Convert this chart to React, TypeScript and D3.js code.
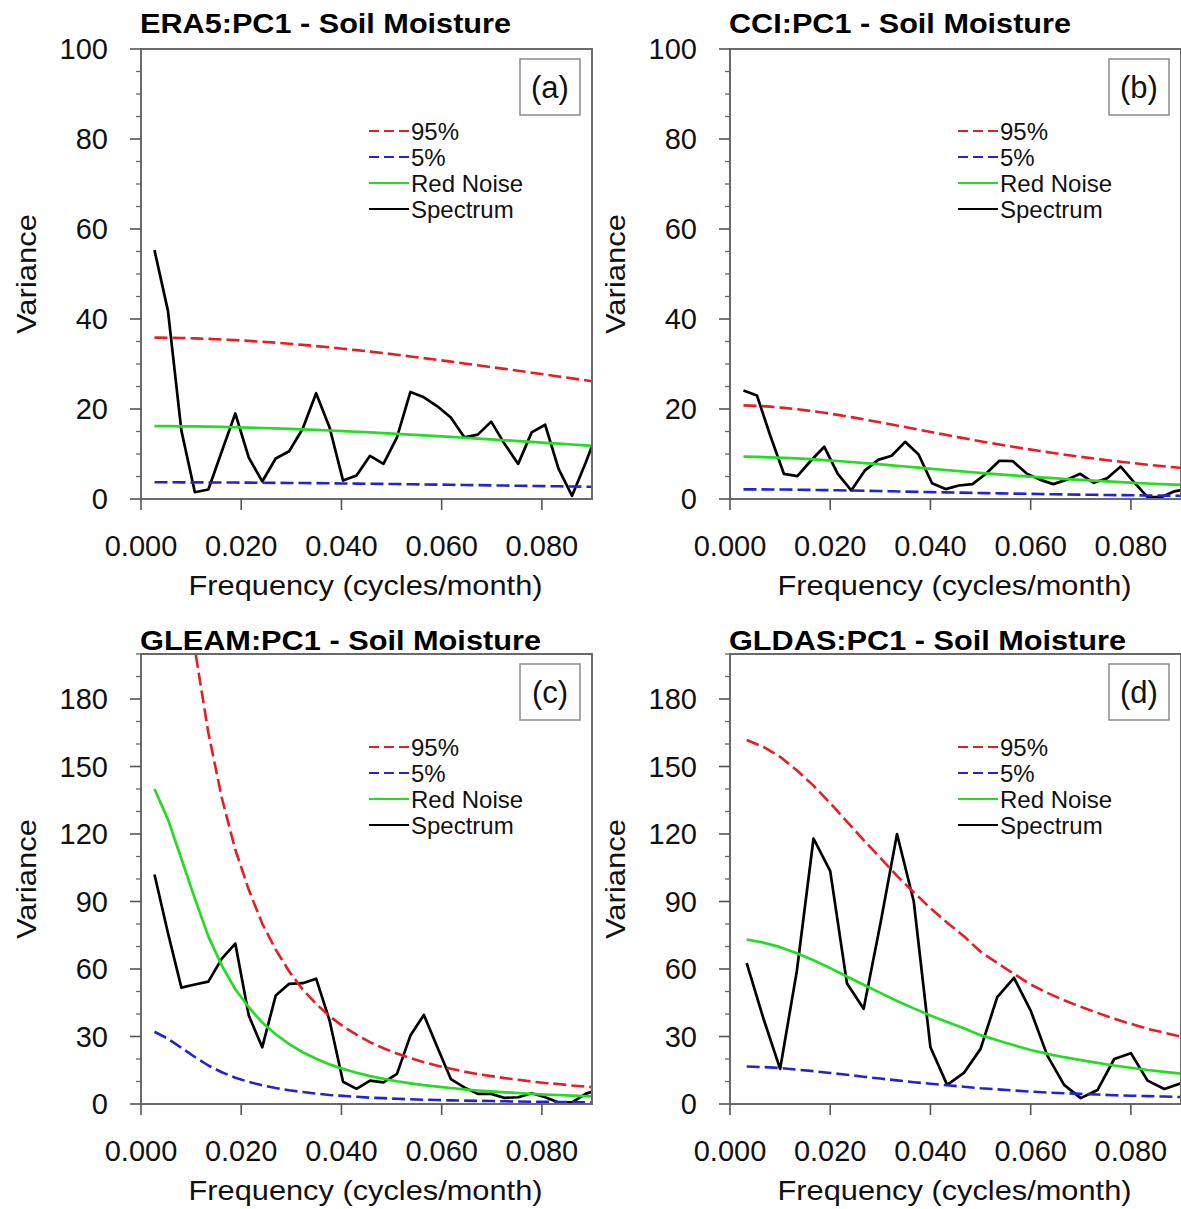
import React from 'react';
import * as d3 from 'd3';

// Frequencies (cycles/month): 372-month records (ERA5, CCI, GLEAM) and 300-month record (GLDAS)
const FREQ_372 = [0.00269, 0.00538, 0.00806, 0.01075, 0.01344, 0.01613, 0.01882, 0.02151, 0.02419, 0.02688,
  0.02957, 0.03226, 0.03495, 0.03763, 0.04032, 0.04301, 0.0457, 0.04839, 0.05108, 0.05376,
  0.05645, 0.05914, 0.06183, 0.06452, 0.0672, 0.06989, 0.07258, 0.07527, 0.07796, 0.08065,
  0.08333, 0.08602, 0.08871, 0.0914];
const FREQ_300 = [0.00333, 0.00667, 0.01, 0.01333, 0.01667, 0.02, 0.02333, 0.02667, 0.03, 0.03333,
  0.03667, 0.04, 0.04333, 0.04667, 0.05, 0.05333, 0.05667, 0.06, 0.06333, 0.06667,
  0.07, 0.07333, 0.07667, 0.08, 0.08333, 0.08667, 0.09];

// (a) ERA5
const ERA5_SPEC = [55.3, 41.8, 15.2, 1.5, 2.1, 10.6, 19.0, 9.2, 3.9, 9.0, 10.6, 15.6, 23.5, 15.9, 4.1, 5.2, 9.6, 7.8, 13.7, 23.8,
  22.6, 20.6, 18.1, 13.7, 14.3, 17.2, 12.2, 7.8, 14.8, 16.5, 6.7, 0.7, 8.0, 15.8];
const ERA5_RN = [16.2, 16.18, 16.16, 16.12, 16.07, 16.01, 15.95, 15.87, 15.78, 15.69, 15.58, 15.47, 15.35, 15.22, 15.08, 14.94, 14.79,
  14.64, 14.48, 14.31, 14.14, 13.97, 13.79, 13.61, 13.43, 13.24, 13.06, 12.87, 12.68, 12.49, 12.3, 12.11, 11.91, 11.72];
const ERA5_95 = [35.87, 35.82, 35.78, 35.69, 35.58, 35.45, 35.31, 35.14, 34.94, 34.74, 34.49, 34.25, 33.98, 33.7, 33.39, 33.08, 32.75,
  32.41, 32.06, 31.68, 31.31, 30.93, 30.53, 30.13, 29.73, 29.31, 28.91, 28.49, 28.07, 27.65, 27.23, 26.81, 26.37, 25.95];
const ERA5_5 = [3.71, 3.71, 3.7, 3.69, 3.68, 3.67, 3.65, 3.63, 3.61, 3.59, 3.57, 3.54, 3.52, 3.49, 3.45, 3.42, 3.39, 3.35, 3.32, 3.28,
  3.24, 3.2, 3.16, 3.12, 3.08, 3.03, 2.99, 2.95, 2.9, 2.86, 2.82, 2.77, 2.73, 2.68];

// (b) CCI
const CCI_SPEC = [24.1, 23.0, 14.0, 5.6, 5.1, 8.5, 11.6, 5.6, 1.9, 6.3, 8.7, 9.6, 12.7, 9.9, 3.5, 2.2, 3.0, 3.3, 5.6, 8.5,
  8.4, 5.7, 4.3, 3.3, 4.3, 5.6, 3.6, 4.6, 7.2, 3.7, 0.4, 0.4, 1.7, 2.3];
const CCI_RN = [9.4, 9.35, 9.27, 9.15, 9.01, 8.84, 8.65, 8.44, 8.22, 7.98, 7.73, 7.47, 7.22, 6.96, 6.7, 6.44, 6.19, 5.94, 5.7, 5.47,
  5.24, 5.03, 4.82, 4.62, 4.42, 4.24, 4.07, 3.9, 3.74, 3.59, 3.44, 3.31, 3.18, 3.05];
const CCI_95 = [20.81, 20.7, 20.52, 20.26, 19.95, 19.57, 19.15, 18.69, 18.2, 17.67, 17.11, 16.54, 15.99, 15.41, 14.83, 14.26, 13.7,
  13.15, 12.62, 12.11, 11.6, 11.14, 10.67, 10.23, 9.79, 9.39, 9.01, 8.63, 8.28, 7.95, 7.62, 7.33, 7.04, 6.75];
const CCI_5 = [2.15, 2.14, 2.12, 2.1, 2.06, 2.02, 1.98, 1.93, 1.88, 1.83, 1.77, 1.71, 1.65, 1.59, 1.53, 1.47, 1.42, 1.36, 1.31, 1.25,
  1.2, 1.15, 1.1, 1.06, 1.01, 0.97, 0.93, 0.89, 0.86, 0.82, 0.79, 0.76, 0.73, 0.7];

// (c) GLEAM
const GLEAM_SPEC = [102, 76, 51.7, 53.1, 54.4, 64.6, 71.3, 39.3, 25.2, 48.2, 53.4, 53.7, 55.7, 37.1, 9.9, 6.7, 10.4, 9.6, 13.4, 30.4,
  39.6, 25.2, 11.1, 7.4, 4.5, 4.5, 2.7, 3.0, 4.8, 3.0, 0.7, 0.7, 4.5, 6.5];
const GLEAM_RN = [140.0, 126.5, 109.0, 91.3, 74.5, 61.5, 51.0, 43.0, 36.2, 31.0, 26.6, 23.0, 20.1, 17.6, 15.6, 13.9, 12.4, 11.2, 10.1, 9.2,
  8.4, 7.7, 7.1, 6.5, 6.0, 5.6, 5.2, 4.9, 4.5, 4.2, 4.0, 3.7, 3.5, 3.3];
const GLEAM_95 = [310.0, 280.1, 241.3, 202.1, 165.0, 136.0, 113.0, 95.2, 80.2, 68.6, 58.9, 50.9, 44.5, 39.0, 34.5, 30.8, 27.5, 24.8, 22.4, 20.4,
  18.6, 17.0, 15.7, 14.4, 13.3, 12.4, 11.5, 10.8, 10.0, 9.3, 8.9, 8.2, 7.7, 7.3];
const GLEAM_5 = [32.1, 29.0, 25.0, 20.9, 17.1, 14.1, 11.7, 9.8, 8.3, 7.1, 6.1, 5.3, 4.6, 4.0, 3.6, 3.2, 2.8, 2.6, 2.3, 2.1,
  1.9, 1.8, 1.6, 1.5, 1.4, 1.3, 1.2, 1.1, 1.0, 1.0, 0.9, 0.8, 0.8, 0.8];

// (d) GLDAS
const GLDAS_SPEC = [62.6, 38, 15.6, 59, 118, 103.5, 53.7, 42.3, 80, 120, 90, 25.2, 8.5, 13.8, 24.5, 47.5, 56.1, 41.5, 21.5, 8.5,
  2.6, 6.2, 20.0, 22.6, 10.4, 6.7, 9.2];
const GLDAS_RN = [73.1, 71.7, 69.7, 67.0, 63.9, 60.4, 56.7, 53.0, 49.4, 45.8, 42.5, 39.3, 36.4, 33.7, 30.6, 28.3, 26.1, 24.0, 22.3, 20.8,
  19.5, 18.3, 17.1, 16.1, 15.1, 14.3, 13.5];
const GLDAS_95 = [161.8, 158.7, 154.3, 148.3, 141.5, 133.7, 125.5, 117.3, 109.4, 101.4, 94.1, 87.0, 80.6, 74.6, 67.7, 62.7, 57.8, 53.1,
  49.4, 46.1, 43.2, 40.5, 37.9, 35.6, 33.4, 31.7, 29.9];
const GLDAS_5 = [16.7, 16.4, 16.0, 15.3, 14.6, 13.8, 13.0, 12.1, 11.3, 10.5, 9.7, 9.0, 8.3, 7.7, 7.0, 6.5, 6.0, 5.5, 5.1, 4.8,
  4.5, 4.2, 3.9, 3.7, 3.5, 3.3, 3.1];

const X_TICKS = [0, 0.02, 0.04, 0.06, 0.08];
const X_TICK_LABELS = ['0.000', '0.020', '0.040', '0.060', '0.080'];
const Y_TICKS_TOP = [0, 20, 40, 60, 80, 100];
const Y_TICKS_BOTTOM = [0, 30, 60, 90, 120, 150, 180];
const LEGEND_LABELS = ['95%', '5%', 'Red Noise', 'Spectrum'];

const RED = '#e61e24';
const BLUE = '#2323cf';
const GREEN = '#22dd22';
const BLACK = '#000000';
const FONT = '"Liberation Sans", Arial, Helvetica, sans-serif';

const W = 451;
const H = 450;

type PanelProps = {
  id: string;
  left: number;
  top: number;
  title: string;
  titleWidth: number;
  titleBaseline: number;
  label: string;
  yMax: number;
  yTicks: number[];
  yMinorStep: number;
  freq: number[];
  spec: number[];
  rn: number[];
  hi: number[];
  lo: number[];
  legendDy: number;
};

function Panel(p: PanelProps) {
  const x = d3.scaleLinear().domain([0, 0.09]).range([p.left, p.left + W]);
  const y = d3.scaleLinear().domain([0, p.yMax]).range([p.top + H, p.top]);
  const line = d3
    .line<number>()
    .x((_, i) => x(p.freq[i]))
    .y((d) => y(d));
  const minors = d3.range(0, p.yMax + 0.001, p.yMinorStep).filter((v) => !p.yTicks.includes(v));
  const bottom = p.top + H;
  const legendColors = [RED, BLUE, GREEN, BLACK];
  const legendDash = ['10,5', '10,5', null, null];
  return (
    <g>
      <defs>
        <clipPath id={`clip-${p.id}`}>
          <rect x={p.left} y={p.top} width={W} height={H} />
        </clipPath>
      </defs>
      <g clipPath={`url(#clip-${p.id})`} fill="none" strokeLinejoin="round">
        <path d={line(p.spec) || ''} stroke={BLACK} strokeWidth={2.7} />
        <path d={line(p.rn) || ''} stroke={GREEN} strokeWidth={2.7} />
        <path d={line(p.lo) || ''} stroke={BLUE} strokeWidth={2.6} strokeDasharray="13,5" />
        <path d={line(p.hi) || ''} stroke={RED} strokeWidth={2.6} strokeDasharray="13,5" />
      </g>
      {/* frame */}
      <rect x={p.left} y={p.top} width={W} height={H} fill="none" stroke="#6a6a6a" strokeWidth={2} />
      {/* y ticks */}
      {p.yTicks.map((t) => (
        <g key={`y${t}`}>
          <line x1={p.left - 11} x2={p.left} y1={y(t)} y2={y(t)} stroke="#555" strokeWidth={1.6} />
          <text x={p.left - 33} y={y(t)} dy="0.36em" textAnchor="end" fontSize={29} fontFamily={FONT} fill="#111">
            {t}
          </text>
        </g>
      ))}
      {minors.map((t) => (
        <line key={`m${t}`} x1={p.left - 5} x2={p.left} y1={y(t)} y2={y(t)} stroke="#666" strokeWidth={1.3} />
      ))}
      {/* x ticks */}
      {X_TICKS.map((t, i) => (
        <g key={`x${t}`}>
          <line x1={x(t)} x2={x(t)} y1={bottom} y2={bottom + 11} stroke="#555" strokeWidth={1.6} />
          <text x={x(t)} y={bottom + 57} textAnchor="middle" fontSize={29} fontFamily={FONT} fill="#111">
            {X_TICK_LABELS[i]}
          </text>
        </g>
      ))}
      {/* axis titles */}
      <text
        x={p.left + W / 2 - 1}
        y={bottom + 96}
        textAnchor="middle"
        fontSize={28}
        fontFamily={FONT}
        fill="#111"
        textLength={354}
        lengthAdjust="spacingAndGlyphs"
      >
        Frequency (cycles/month)
      </text>
      <text
        transform={`translate(${p.left - 105},${p.top + H / 2}) rotate(-90)`}
        textAnchor="middle"
        fontSize={28}
        fontFamily={FONT}
        fill="#111"
        textLength={120}
        lengthAdjust="spacingAndGlyphs"
      >
        Variance
      </text>
      {/* title */}
      <text
        x={p.left - 1}
        y={p.titleBaseline}
        fontSize={27}
        fontWeight="bold"
        fontFamily={FONT}
        fill="#000"
        textLength={p.titleWidth}
        lengthAdjust="spacingAndGlyphs"
      >
        {p.title}
      </text>
      {/* panel label box */}
      <rect x={p.left + 379} y={p.top + 10} width={60} height={56} fill="#fff" stroke="#8a8a8a" strokeWidth={1.5} />
      <text x={p.left + 409} y={p.top + 38} dy="0.36em" textAnchor="middle" fontSize={31} fontFamily={FONT} fill="#111">
        {p.label}
      </text>
      {/* legend */}
      {LEGEND_LABELS.map((lab, i) => {
        const ly = p.top + p.legendDy + i * 26;
        return (
          <g key={lab}>
            <line
              x1={p.left + 228}
              x2={p.left + 268}
              y1={ly}
              y2={ly}
              stroke={legendColors[i]}
              strokeWidth={2.2}
              strokeDasharray={legendDash[i] || undefined}
            />
            <text x={p.left + 270} y={ly} dy="0.36em" fontSize={24} fontFamily={FONT} fill="#111">
              {lab}
            </text>
          </g>
        );
      })}
    </g>
  );
}

export default function App() {
  return (
    <svg
      width={1181}
      height={1209}
      viewBox="0 0 1181 1209"
      style={{ position: 'absolute', left: 0, top: 0, background: '#fff' }}
    >
      <rect x={0} y={0} width={1181} height={1209} fill="#fff" />
      <Panel
        id="a" left={141} top={49} title="ERA5:PC1 - Soil Moisture" titleWidth={371} titleBaseline={33}
        label="(a)" yMax={100} yTicks={Y_TICKS_TOP} yMinorStep={5}
        freq={FREQ_372} spec={ERA5_SPEC} rn={ERA5_RN} hi={ERA5_95} lo={ERA5_5} legendDy={82}
      />
      <Panel
        id="b" left={730} top={49} title="CCI:PC1 - Soil Moisture" titleWidth={342} titleBaseline={33}
        label="(b)" yMax={100} yTicks={Y_TICKS_TOP} yMinorStep={5}
        freq={FREQ_372} spec={CCI_SPEC} rn={CCI_RN} hi={CCI_95} lo={CCI_5} legendDy={82}
      />
      <Panel
        id="c" left={141} top={654} title="GLEAM:PC1 - Soil Moisture" titleWidth={401} titleBaseline={650}
        label="(c)" yMax={200} yTicks={Y_TICKS_BOTTOM} yMinorStep={10}
        freq={FREQ_372} spec={GLEAM_SPEC} rn={GLEAM_RN} hi={GLEAM_95} lo={GLEAM_5} legendDy={93}
      />
      <Panel
        id="d" left={730} top={654} title="GLDAS:PC1 - Soil Moisture" titleWidth={397} titleBaseline={650}
        label="(d)" yMax={200} yTicks={Y_TICKS_BOTTOM} yMinorStep={10}
        freq={FREQ_300} spec={GLDAS_SPEC} rn={GLDAS_RN} hi={GLDAS_95} lo={GLDAS_5} legendDy={93}
      />
    </svg>
  );
}
